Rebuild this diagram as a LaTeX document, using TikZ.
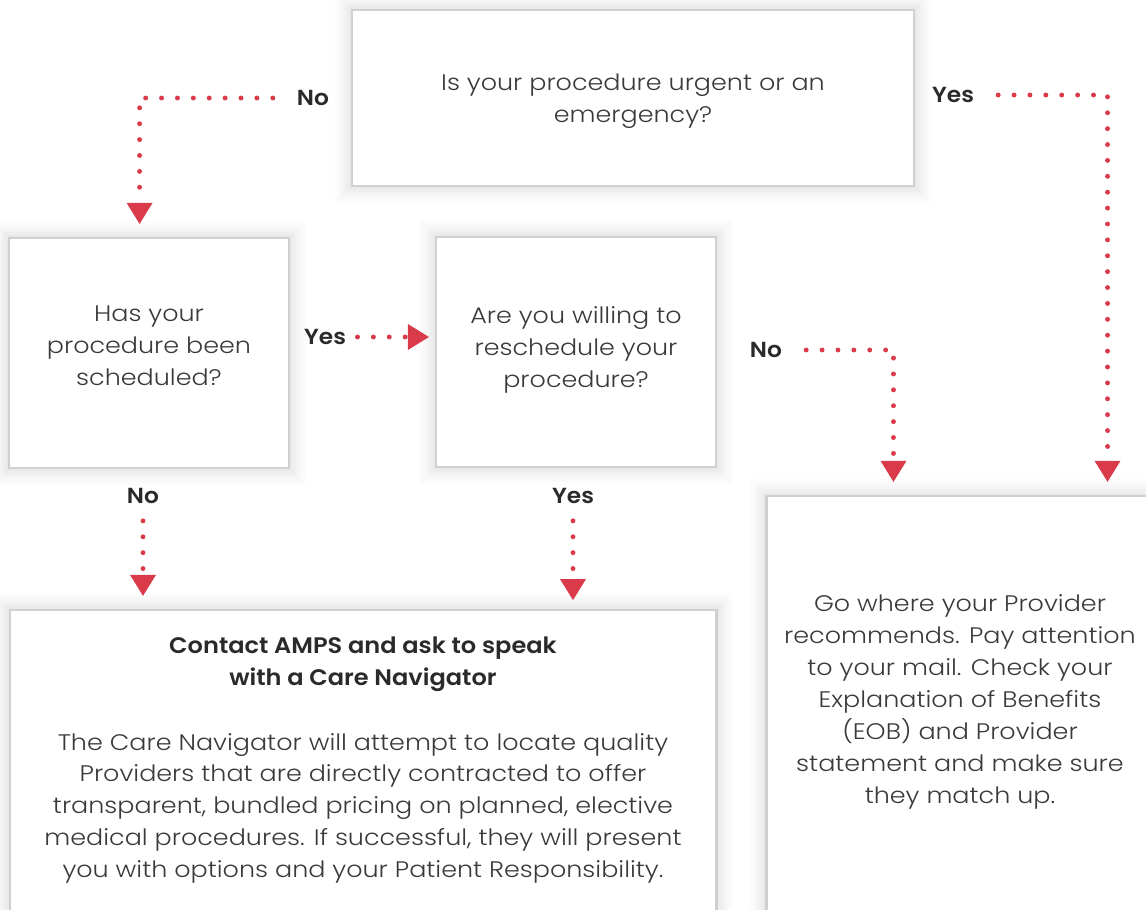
\documentclass[tikz,border=0pt]{standalone}
\usepackage{fontspec}
\setmainfont{Poppins}[UprightFont=* Light, BoldFont=* SemiBold,
  UprightFeatures={FakeStretch=1.13}, BoldFeatures={FakeStretch=1.07}]
\usetikzlibrary{arrows.meta,positioning}
\definecolor{arrowred}{RGB}{218,59,74}
\definecolor{boxgrey}{RGB}{208,208,208}
\definecolor{inkgrey}{RGB}{58,58,58}
\definecolor{labelgrey}{RGB}{42,42,42}
\tikzset{
  qbox/.style={draw=boxgrey, line width=2pt, fill=white, align=center, text=inkgrey, inner sep=0pt,
    font=\fontsize{16}{22.7}\selectfont,
    preaction={draw=black, opacity=0.012, line width=24pt},
    preaction={draw=black, opacity=0.012, line width=20pt},
    preaction={draw=black, opacity=0.012, line width=16pt},
    preaction={draw=black, opacity=0.014, line width=12pt},
    preaction={draw=black, opacity=0.016, line width=8pt},
    preaction={draw=black, opacity=0.02, line width=4pt}},
  qtext/.style={align=center, text=inkgrey, inner sep=0pt, font=\fontsize{16}{22.7}\selectfont},
  answer/.style={font=\bfseries\fontsize{15.5}{18}\selectfont, text=labelgrey, inner sep=2pt},
  dotline/.style={draw=arrowred, line width=3.5pt, line cap=round, dash pattern=on 0pt off 11.3pt,
    -{Triangle[width=18.4pt,length=14.9pt,line width=0pt]}, shorten <=15pt, shorten >=9pt}
}
\begin{document}
\begin{tikzpicture}[x=0.025cm, y=-0.025cm]
\useasboundingbox (0,0) rectangle (1146,909);
\fill[white] (0,0) rectangle (1146,909);
\clip (0,0) rectangle (1146,909);
% question boxes
\node[qbox, minimum width=14.05cm, minimum height=4.4cm, text depth=0pt] (urgent) at (633,98) {Is your procedure urgent or an\\emergency?};
\node[qbox, minimum width=7cm, minimum height=5.75cm, text depth=11pt] (booked) at (149,353) {Has your\\procedure been\\scheduled?};
\node[qbox, minimum width=7cm, minimum height=5.75cm, text depth=7pt] (resched) at (576,352) {Are you willing to\\reschedule your\\procedure?};
% outcome boxes
\node[qbox, minimum width=17.65cm, minimum height=9.75cm] (care) at (363,805) {};
\node[qbox, minimum width=9.83cm, minimum height=12.6cm] (gobox) at (963.5,748) {};
\node[qtext, below=0.71cm of care.north] (caretext) {{\bfseries\color{labelgrey}Contact AMPS and ask to speak}\\{\bfseries\color{labelgrey}with a Care Navigator}\\[23pt]
The Care Navigator will attempt to locate quality\\Providers that are directly contracted to offer\\transparent, bundled pricing on planned, elective\\medical procedures. If successful, they will present\\you with options and your Patient Responsibility.};
\node[qtext] (gotext) at (960,702) {Go where your Provider\\recommends. Pay attention\\to your mail. Check your\\Explanation of Benefits\\(EOB) and Provider\\statement and make sure\\they match up.};
% answers
\node[answer] (noTop) at (313,98) {No};
\node[answer] (yesTop) at (953,95) {Yes};
\node[answer] (yesMid) at (325,337) {Yes};
\node[answer] (noMid) at (766,350) {No};
\node[answer] (noLow) at (143,496) {No};
\node[answer] (yesLow) at (573,496) {Yes};
% connectors
\draw[dotline] (noTop.west) -| ([xshift=3.3cm]booked.north west);
\draw[dotline] (yesTop.east) -| ([xshift=8.55cm]gobox.north west);
\draw[dotline, shorten <=6pt, shorten >=4pt] (yesMid.east) -- (yesMid.east -| resched.west);
\draw[dotline] (noMid.east) -| ([xshift=3.2cm]gobox.north west);
\draw[dotline, shorten <=10pt] (noLow.south) -- (noLow.south |- care.north);
\draw[dotline, shorten <=10pt, shorten >=6pt] (yesLow.south) -- (yesLow.south |- care.north);
\end{tikzpicture}
\end{document}
